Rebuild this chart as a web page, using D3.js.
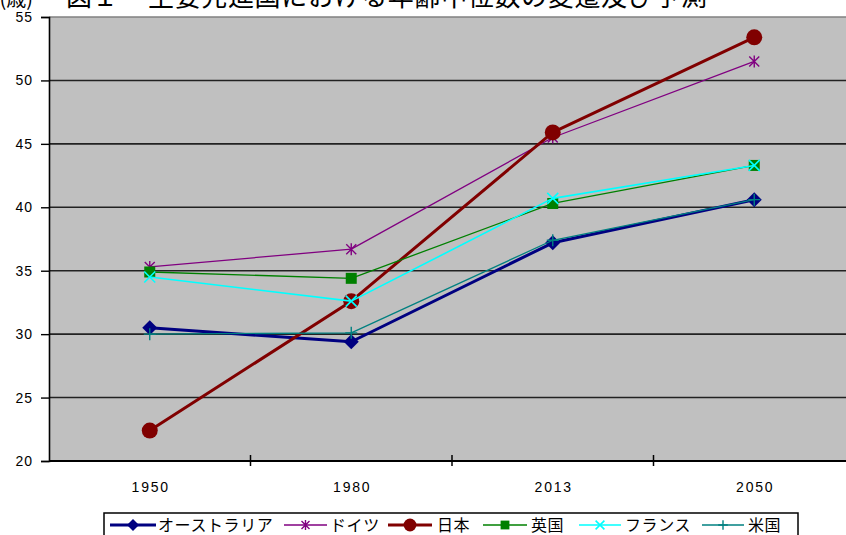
<!DOCTYPE html>
<html lang="ja">
<head>
<meta charset="utf-8">
<script src="https://cdn.jsdelivr.net/npm/d3@7"></script>
<style>
  html, body { margin: 0; padding: 0; background: #fff; overflow: hidden; }
  svg { display: block; }
</style>
</head>
<body>
<svg id="chart" width="846" height="535"></svg>
<script>
// Median age of major developed countries (years)
const years = ["1950", "1980", "2013", "2050"];
const seriesNames = ["オーストラリア", "ドイツ", "日本", "英国", "フランス", "米国"];
const australia = [30.5, 29.4, 37.2, 40.6];
const germany   = [35.3, 36.7, 45.5, 51.5];
const japan     = [22.4, 32.6, 45.9, 53.4];
const uk        = [34.9, 34.4, 40.3, 43.3];
const france    = [34.5, 32.6, 40.7, 43.3];
const usa       = [30.0, 30.1, 37.4, 40.6];
const yTicks = [20, 25, 30, 35, 40, 45, 50, 55];

const seriesValues = [australia, germany, japan, uk, france, usa];
const seriesStyle = [
  { color: "#000080", width: 3,   marker: "diamond",  size: 7.5 },
  { color: "#800080", width: 1.3, marker: "asterisk", size: 5 },
  { color: "#800000", width: 3,   marker: "circle",   size: 8 },
  { color: "#008000", width: 1.3, marker: "square",   size: 5.5 },
  { color: "#00FFFF", width: 1.6, marker: "cross",    size: 5.5 },
  { color: "#008080", width: 1.3, marker: "plus",     size: 6 }
];

const svg = d3.select("#chart");
const plot = { left: 49, right: 855, top: 17, bottom: 461 };

const x = d3.scaleBand().domain(years).range([plot.left, plot.right]).padding(0);
const y = d3.scaleLinear().domain([20, 55]).range([plot.bottom, plot.top]);
const cx = d => x(d) + x.bandwidth() / 2;

// Title (runs off the top edge of the page)
const titleY = 6;
svg.append("text")
  .attr("x", 33).attr("y", titleY)
  .attr("text-anchor", "end")
  .attr("font-family", "'Noto Sans CJK JP'")
  .attr("font-size", 20)
  .attr("fill", "#000")
  .text("(歳)");
svg.append("text")
  .attr("x", 66).attr("y", titleY)
  .attr("font-family", "'Noto Sans CJK JP'")
  .attr("font-size", 26)
  .attr("fill", "#000")
  .text("図１");
svg.append("text")
  .attr("x", 148).attr("y", titleY)
  .attr("font-family", "'Noto Sans CJK JP'")
  .attr("font-size", 26)
  .attr("textLength", 559)
  .attr("lengthAdjust", "spacing")
  .attr("fill", "#000")
  .text("主要先進国における年齢中位数の変遷及び予測");

// Plot background
svg.append("rect")
  .attr("x", plot.left).attr("y", plot.top)
  .attr("width", plot.right - plot.left)
  .attr("height", plot.bottom - plot.top)
  .attr("fill", "#C0C0C0");

// Top border of plot area
svg.append("line")
  .attr("x1", plot.left).attr("x2", plot.right)
  .attr("y1", y(55)).attr("y2", y(55))
  .attr("stroke", "#808080").attr("stroke-width", 1.5);

// Horizontal gridlines
svg.append("g")
  .selectAll("line")
  .data(yTicks.filter(t => t > 20 && t < 55))
  .join("line")
  .attr("x1", plot.left).attr("x2", plot.right)
  .attr("y1", d => y(d)).attr("y2", d => y(d))
  .attr("stroke", "#222").attr("stroke-width", 1.6);

// Y axis
const yAxis = d3.axisLeft(y).tickValues(yTicks).tickSize(8).tickPadding(8);
const gy = svg.append("g")
  .attr("transform", `translate(${plot.left},0)`)
  .call(yAxis);
gy.select(".domain").attr("stroke", "#000").attr("stroke-width", 1.6);
gy.selectAll(".tick line").attr("stroke", "#000").attr("stroke-width", 1.4);
gy.selectAll(".tick text")
  .attr("font-family", "'Liberation Sans', Arial, sans-serif")
  .attr("font-size", 14)
  .attr("letter-spacing", 1)
  .attr("fill", "#000");

// X axis: line, ticks between categories, centred labels
svg.append("line")
  .attr("x1", plot.left).attr("x2", plot.right)
  .attr("y1", plot.bottom).attr("y2", plot.bottom)
  .attr("stroke", "#000").attr("stroke-width", 2);
svg.append("g")
  .selectAll("line")
  .data(years.slice(1))
  .join("line")
  .attr("x1", d => x(d)).attr("x2", d => x(d))
  .attr("y1", plot.bottom - 6).attr("y2", plot.bottom + 5)
  .attr("stroke", "#000").attr("stroke-width", 1.5);
svg.append("g")
  .selectAll("text")
  .data(years)
  .join("text")
  .attr("x", d => cx(d) + 1)
  .attr("y", 492)
  .attr("text-anchor", "middle")
  .attr("font-family", "'Liberation Sans', Arial, sans-serif")
  .attr("font-size", 14)
  .attr("letter-spacing", 1.8)
  .attr("fill", "#000")
  .text(d => d);

// Marker drawing
function drawMarker(g, type, px, py, s, color) {
  switch (type) {
    case "diamond":
      g.append("path")
        .attr("d", `M${px},${py - s}L${px + s},${py}L${px},${py + s}L${px - s},${py}Z`)
        .attr("fill", color);
      break;
    case "circle":
      g.append("circle").attr("cx", px).attr("cy", py).attr("r", s).attr("fill", color);
      break;
    case "square":
      g.append("rect").attr("x", px - s).attr("y", py - s)
        .attr("width", 2 * s).attr("height", 2 * s).attr("fill", color);
      break;
    case "asterisk":
      g.append("path")
        .attr("d", `M${px - s},${py - s}L${px + s},${py + s}M${px - s},${py + s}L${px + s},${py - s}M${px},${py - s - 1}L${px},${py + s + 1}`)
        .attr("stroke", color).attr("stroke-width", 1.4).attr("fill", "none");
      break;
    case "cross":
      g.append("path")
        .attr("d", `M${px - s},${py - s}L${px + s},${py + s}M${px - s},${py + s}L${px + s},${py - s}`)
        .attr("stroke", color).attr("stroke-width", 1.6).attr("fill", "none");
      break;
    case "plus":
      g.append("path")
        .attr("d", `M${px - s},${py}L${px + s},${py}M${px},${py - s}L${px},${py + s}`)
        .attr("stroke", color).attr("stroke-width", 1.4).attr("fill", "none");
      break;
  }
}

// Series lines with markers
const line = d3.line().x((d, i) => cx(years[i])).y(d => y(d));
seriesValues.forEach((vals, si) => {
  const st = seriesStyle[si];
  const g = svg.append("g");
  g.append("path")
    .attr("d", line(vals))
    .attr("fill", "none")
    .attr("stroke", st.color)
    .attr("stroke-width", st.width)
    .attr("stroke-linejoin", "round");
  vals.forEach((v, i) => drawMarker(g, st.marker, cx(years[i]), y(v), st.size, st.color));
});

// Legend
const legendItems = [
  { x1: 110, x2: 156, tx: 158 },
  { x1: 284, x2: 327, tx: 330 },
  { x1: 388, x2: 432, tx: 437 },
  { x1: 483, x2: 527, tx: 531 },
  { x1: 579, x2: 621, tx: 625 },
  { x1: 702, x2: 744, tx: 748 }
];
const ly = 525;
svg.append("rect")
  .attr("x", 104).attr("y", 513)
  .attr("width", 694).attr("height", 40)
  .attr("fill", "#fff").attr("stroke", "#000").attr("stroke-width", 1.5);
seriesNames.forEach((name, si) => {
  const st = seriesStyle[si];
  const it = legendItems[si];
  const g = svg.append("g");
  g.append("line")
    .attr("x1", it.x1).attr("x2", it.x2).attr("y1", ly).attr("y2", ly)
    .attr("stroke", st.color).attr("stroke-width", st.width);
  drawMarker(g, st.marker, (it.x1 + it.x2) / 2, ly, st.size * 0.8, st.color);
  g.append("text")
    .attr("x", it.tx).attr("y", ly + 6)
    .attr("font-family", "'Noto Sans CJK JP'")
    .attr("font-size", 16)
    .attr("letter-spacing", 0.6)
    .attr("fill", "#000")
    .text(name);
});
</script>
</body>
</html>
